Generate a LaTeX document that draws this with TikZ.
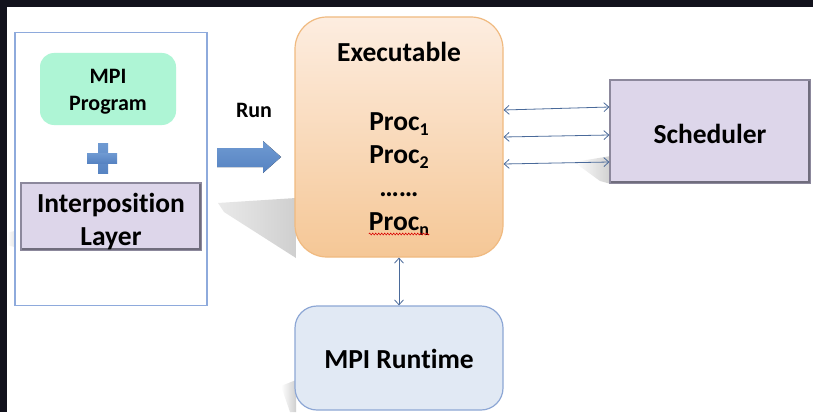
\documentclass[tikz,border=0pt]{standalone}
\usepackage{fontspec}
\setmainfont{Carlito}[Ligatures={NoCommon}]
\usetikzlibrary{arrows.meta,decorations.pathmorphing}
\definecolor{darkbar}{HTML}{12121C}
\definecolor{outerblue}{HTML}{8EAADC}
\definecolor{mint}{HTML}{AEF5D5}
\definecolor{lav}{HTML}{DDD6EA}
\definecolor{lavedge}{HTML}{8C889C}
\definecolor{exetop}{HTML}{FDEDE0}
\definecolor{exebot}{HTML}{F5C796}
\definecolor{exeedge}{HTML}{F0BA80}
\definecolor{rtfill}{HTML}{E1E9F4}
\definecolor{rtedge}{HTML}{8DA7D5}
\definecolor{conn}{HTML}{4A6A9A}
\definecolor{blockblue}{HTML}{5683C2}
\definecolor{blocklight}{HTML}{6F9AD2}
\definecolor{shadowgray}{HTML}{CFCFCF}
\newcommand{\bigtxt}{\fontsize{27.5}{33}\selectfont\bfseries}
\newcommand{\midtxt}{\fontsize{22}{26}\selectfont\bfseries}
\newcommand{\psub}[1]{\raisebox{-5pt}{\fontsize{18}{18}\selectfont #1}}
\tikzset{
  lbl/.style={anchor=base, inner sep=0pt, text=black},
  bevelbox/.style={fill=lav, draw=lavedge, line width=1.2pt, inner sep=0pt},
  link/.style={draw=conn, line width=0.8pt, {Straight Barb[length=5pt,width=9pt]}-{Straight Barb[length=5pt,width=9pt]}},
  softshadow/.style={left color=white, right color=shadowgray, draw=none},
}
\begin{document}
\begin{tikzpicture}[x=1pt,y=-1pt]
\useasboundingbox (0,0) rectangle (813,412);
\fill[white] (0,0) rectangle (813,412);
\fill[darkbar] (0,0) rectangle (813,7);
\fill[darkbar] (0,0) rectangle (7,412);

% soft shadows
\shade[softshadow] (19,111) -- (41,105) -- (41,126) -- (28,123) -- cycle;
\shade[softshadow] (7,233) -- (22,229) -- (22,249) -- (7,245) -- cycle;
\shade[left color=shadowgray!45, right color=shadowgray, draw=none] (218,203) -- (296,198) -- (296,258) -- (224,212) -- cycle;
\shade[softshadow] (574,162) -- (611,156) -- (611,184) -- (600,181) -- cycle;
\shade[softshadow] (281,386) -- (296,380) -- (296,412) -- (290,412) -- cycle;

% left container
\node[draw=outerblue, line width=1.2pt, fill=white, minimum width=192pt, minimum height=273pt, inner sep=0pt] (outer) at (111,169) {};

% MPI Program
\node[fill=mint, rounded corners=14pt, minimum width=136pt, minimum height=72pt, inner sep=0pt] (prog) at (108,89) {};
\node[lbl] (progA) at (108,83) {\midtxt MPI};
\node[lbl] (progB) at (108,110) {\midtxt Program};

% plus sign
\fill[top color=blocklight, bottom color=blockblue] (98,143) rectangle (108,173);
\fill[top color=blocklight, bottom color=blockblue] (87,153) rectangle (117,163);

% Interposition layer
\node[bevelbox, minimum width=180pt, minimum height=67pt] (inter) at (111,216.5) {};
\draw[lavedge!80!black, line width=2.4pt] ([shift={(-1.8,2)}]inter.north east) -- ([shift={(-1.8,-1.8)}]inter.south east) -- ([shift={(2,-1.8)}]inter.south west);
\node[lbl] (interA) at (111,212) {\bigtxt Interposition};
\node[lbl] (interB) at (111,245) {\bigtxt Layer};

% Run arrow
\node[lbl] (run) at (254,117) {\midtxt Run};
\fill[top color=blocklight, bottom color=blockblue] (217,148) -- (263,148) -- (263,141) -- (281,157) -- (263,173) -- (263,167) -- (217,167) -- cycle;

% Executable
\node[draw=exeedge, line width=1.2pt, top color=exetop, bottom color=exebot, rounded corners=32pt, minimum width=208pt, minimum height=240pt, inner sep=0pt] (exe) at (399,137) {};
\node[lbl] (exeT) at (399,62) {\bigtxt Executable};
\node[lbl] (p1) at (399,130) {\bigtxt Proc\psub{1}};
\node[lbl] (p2) at (399,163) {\bigtxt Proc\psub{2}};
\node[lbl] (dots) at (399,196) {\bigtxt ……};
\node[lbl] (pn) at (399,230) {\bigtxt Proc\psub{n}};
\draw[red!85!black, line width=0.6pt, decorate, decoration={snake, amplitude=0.9pt, segment length=3pt}] ([shift={(0,4)}]pn.base west) -- ([shift={(0,4)}]pn.base east);

% Scheduler
\node[bevelbox, minimum width=200pt, minimum height=103pt] (sch) at (710,131.5) {};
\draw[lavedge!80!black, line width=2.4pt] ([shift={(-1.8,2)}]sch.north east) -- ([shift={(-1.8,-1.8)}]sch.south east) -- ([shift={(2,-1.8)}]sch.south west);
\node[lbl] (schT) at (710,143) {\bigtxt Scheduler};

% MPI Runtime
\node[draw=rtedge, line width=1.2pt, fill=rtfill, rounded corners=22pt, minimum width=208pt, minimum height=104pt, inner sep=0pt] (rt) at (399,358) {};
\node[lbl] (rtT) at (399,368) {\bigtxt MPI Runtime};

% connectors
\draw[link] (exe.east |- 0,110) -- (sch.west |- 0,107);
\draw[link] (exe.east |- 0,137) -- (sch.west |- 0,135);
\draw[link] (exe.east |- 0,164) -- (sch.west |- 0,162);
\draw[link] (exe.south) -- (rt.north);
\end{tikzpicture}
\end{document}
